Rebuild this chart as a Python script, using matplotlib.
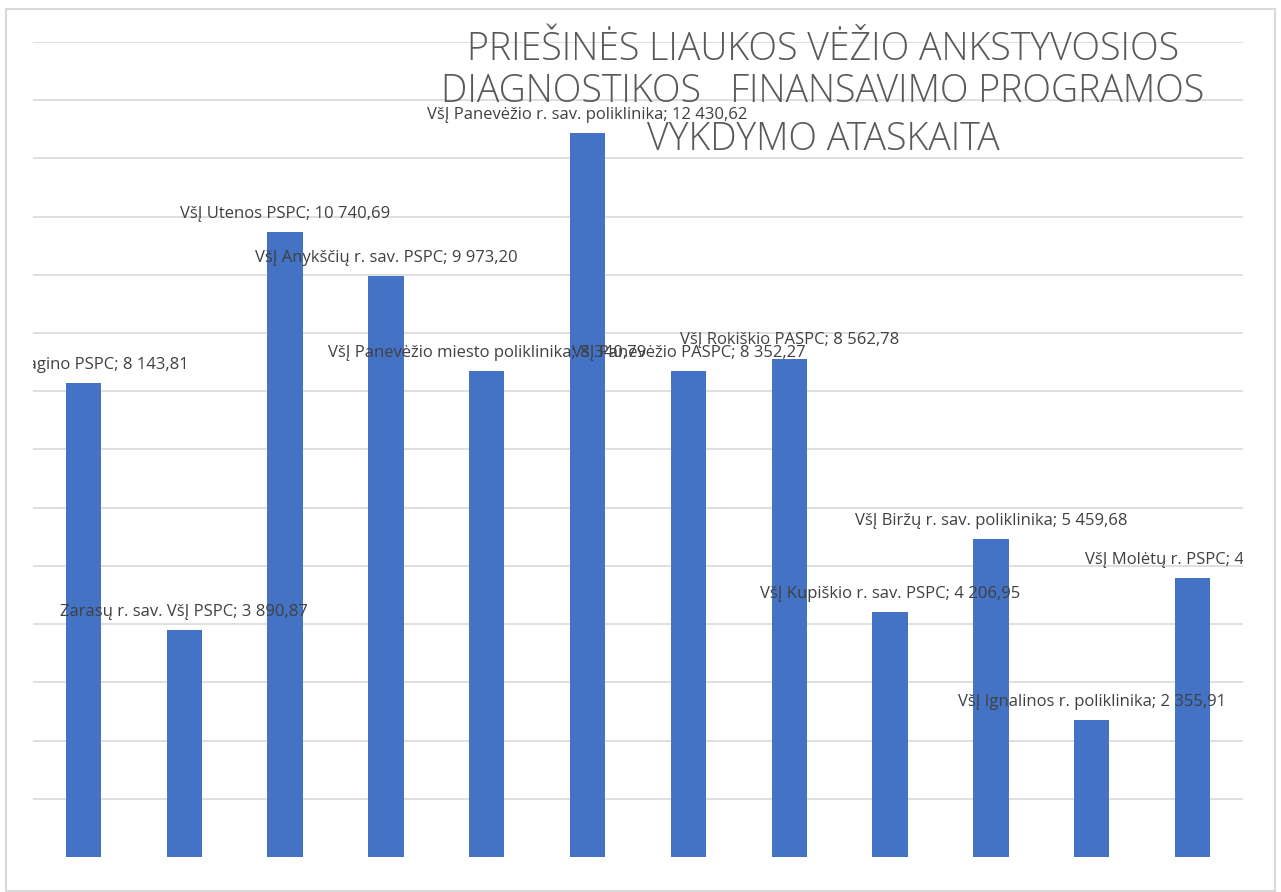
import matplotlib.pyplot as plt
from matplotlib.patches import Rectangle

plt.rcParams['font.family'] = ['Open Sans', 'DejaVu Sans']

# duomenys
names = ['VšĮ Visagino PSPC', 'Zarasų r. sav. VšĮ PSPC', 'VšĮ Utenos PSPC',
         'VšĮ Anykščių r. sav. PSPC', 'VšĮ Panevėžio miesto poliklinika',
         'VšĮ Panevėžio r. sav. poliklinika', 'VšĮ Panevėžio PASPC',
         'VšĮ Rokiškio PASPC', 'VšĮ Kupiškio r. sav. PSPC',
         'VšĮ Biržų r. sav. poliklinika', 'VšĮ Ignalinos r. poliklinika',
         'VšĮ Molėtų r. PSPC']
values = [8143.81, 3890.87, 10740.69, 9973.20, 8340.79, 12430.62,
          8352.27, 8562.78, 4206.95, 5459.68, 2355.91, 4785.30]
title_lines = ['PRIEŠINĖS LIAUKOS VĖŽIO ANKSTYVOSIOS',
               'DIAGNOSTIKOS   FINANSAVIMO PROGRAMOS',
               'VYKDYMO ATASKAITA']


def fmt(v):
    s = '{:,.2f}'.format(v)
    return s.replace(',', ' ').replace('.', ',')


W, H = 1281, 892
fig = plt.figure(figsize=(W / 100, H / 100), dpi=100)
fig.patches.append(Rectangle((6 / W, 1 / H), 1269 / W, 882 / H, transform=fig.transFigure,
                             fill=False, edgecolor='#d9d9d9', linewidth=1.5))
ax = fig.add_axes([33 / W, (H - 857) / H, 1210 / W, 815 / H])

x = range(len(values))
ax.bar(x, values, width=0.35, color='#4472c4', zorder=2)
for g in range(1000, 14001, 1000):
    ax.axhline(g, color='#d9d9d9', linewidth=1.2, zorder=1)
ax.set_xlim(-0.5, len(values) - 0.5)
ax.set_ylim(0, 14000)
ax.axis('off')

for i, (n, v) in enumerate(zip(names, values)):
    ax.annotate(n + '; ' + fmt(v), (i, v), xytext=(0, 13), textcoords='offset points',
                ha='center', va='center', fontsize=12, color='#404040',
                annotation_clip=False, clip_on=True, zorder=3)

ys = [50, 92, 140]
for t, yy in zip(title_lines, ys):
    fig.text(823 / W, 1 - yy / H, t, ha='center', va='center', fontsize=27,
             color='#595959', fontweight='light')

fig.savefig('out.png', dpi=100)
